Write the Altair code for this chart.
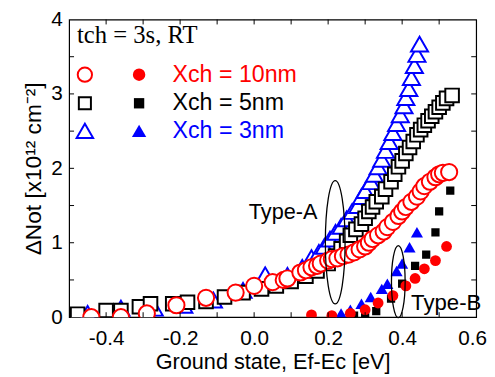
import altair as alt
import pandas as pd

# ---------------- data ----------------
# Xch = 10nm, open circles (Type-A)
x10_open = [-0.44, -0.36, -0.29, -0.21, -0.13, -0.05, 0.00, 0.05, 0.08, 0.09, 0.125, 0.14,
            0.155, 0.17, 0.18, 0.20, 0.21, 0.225, 0.24, 0.255, 0.27, 0.285, 0.30, 0.31,
            0.32, 0.335, 0.35, 0.36, 0.375, 0.39, 0.40, 0.41, 0.425, 0.44, 0.45, 0.46,
            0.475, 0.49, 0.50, 0.51, 0.527]
y10_open = [0.00, 0.00, 0.05, 0.16, 0.26, 0.33, 0.42, 0.47, 0.50, 0.52, 0.60, 0.63,
            0.67, 0.69, 0.72, 0.76, 0.78, 0.79, 0.82, 0.84, 0.87, 0.91, 0.95, 1.00,
            1.05, 1.10, 1.15, 1.21, 1.28, 1.36, 1.42, 1.48, 1.55, 1.62, 1.69, 1.76,
            1.82, 1.88, 1.92, 1.94, 1.95]
# Xch = 5nm, open squares (Type-A)
x5_open = [-0.477, -0.40, -0.36, -0.31, -0.28, -0.22, -0.18, -0.13, -0.08, -0.03, 0.02,
           0.06, 0.10, 0.14, 0.17, 0.20, 0.22, 0.235, 0.25, 0.26, 0.275, 0.29, 0.30, 0.31,
           0.32, 0.33, 0.345, 0.355, 0.37, 0.38, 0.39, 0.40, 0.41, 0.42, 0.43, 0.44, 0.45,
           0.46, 0.47, 0.48, 0.49, 0.50, 0.51, 0.52, 0.535]
y5_open = [0.04, 0.09, 0.09, 0.14, 0.18, 0.18, 0.20, 0.21, 0.27, 0.33, 0.38,
           0.42, 0.48, 0.55, 0.62, 0.72, 0.82, 0.92, 1.02, 1.10, 1.18, 1.25, 1.33, 1.42,
           1.48, 1.55, 1.62, 1.72, 1.82, 1.92, 2.02, 2.10, 2.20, 2.28, 2.36, 2.45, 2.52,
           2.58, 2.64, 2.70, 2.76, 2.82, 2.88, 2.94, 2.98]
# Xch = 3nm, open triangles (Type-A)
x3_open = [-0.45, -0.36, -0.27, -0.19, -0.11, -0.03, 0.03, 0.09, 0.13, 0.155, 0.175, 0.19,
           0.205, 0.22, 0.235, 0.25, 0.265, 0.28, 0.29, 0.30, 0.315, 0.325, 0.335, 0.345,
           0.355, 0.365, 0.375, 0.385, 0.395, 0.405, 0.41, 0.418, 0.425, 0.433, 0.44, 0.447]
y3_open = [0.05, 0.12, 0.12, 0.16, 0.23, 0.36, 0.57, 0.56, 0.67, 0.80, 0.87, 0.95,
           1.05, 1.14, 1.22, 1.32, 1.42, 1.50, 1.62, 1.70, 1.82, 1.92, 2.02, 2.12,
           2.24, 2.36, 2.48, 2.60, 2.72, 2.84, 2.95, 3.07, 3.22, 3.38, 3.53, 3.67]
# filled symbols (Type-B)
x10_fill = [0.155, 0.21, 0.26, 0.30, 0.335, 0.375, 0.41, 0.435, 0.46, 0.49, 0.52]
y10_fill = [0.03, 0.02, 0.05, 0.10, 0.19, 0.29, 0.42, 0.52, 0.65, 0.76, 0.95]
x5_fill = [0.27, 0.30, 0.33, 0.37, 0.40, 0.435, 0.465, 0.49, 0.50, 0.53]
y5_fill = [0.02, 0.03, 0.08, 0.25, 0.45, 0.69, 0.84, 1.14, 1.42, 1.70]
x3_fill = [0.235, 0.26, 0.29, 0.315, 0.345, 0.36, 0.385, 0.40, 0.42, 0.44]
y3_fill = [0.05, 0.10, 0.18, 0.27, 0.38, 0.45, 0.62, 0.72, 0.94, 1.14]

x_labels = [-0.4, -0.2, 0.0, 0.2, 0.4, 0.6]
y_labels = [0, 1, 2, 3, 4]
x_ticks = [-0.4, -0.3, -0.2, -0.1, 0.0, 0.1, 0.2, 0.3, 0.4, 0.5]
y_ticks = [0.5, 1.0, 1.5, 2.0, 2.5, 3.0, 3.5]

legend_labels = ["Xch = 10nm", "Xch = 5nm", "Xch = 3nm"]
legend_colors = ["#ff0000", "#000000", "#0000ff"]
legend_shapes = ["circle", "square", "triangle-up"]

# ---------------- layout ----------------
W, H = 413, 302
SANS = "Liberation Sans"

xscale = alt.Scale(domain=[-0.5, 0.6], nice=False, zero=False)
yscale = alt.Scale(domain=[0, 4], nice=False, zero=False)
xaxis = alt.Axis(values=x_labels, ticks=False, tickSize=0, domain=False, grid=False,
                 labelExpr="replace(format(datum.value, '.1f'), '\u2212', '-')",
                 labelFont=SANS, labelFontSize=21, labelColor="black", labelPadding=11,
                 labelOffset={"condition": {"test": "datum.value > 0.55", "value": -4}, "value": 0},
                 labelFlush=False, labelOverlap=False,
                 title="Ground state, Ef-Ec [eV]", titleFont=SANS, titleFontSize=22,
                 titleFontWeight="normal", titleColor="black", titlePadding=3)
yaxis = alt.Axis(values=y_labels, ticks=False, tickSize=0, domain=False, grid=False,
                 format="d", labelFont=SANS, labelFontSize=21, labelColor="black",
                 labelPadding=7, labelFlush=False, labelOverlap=False,
                 title="\u0394Not [x10\u00b9\u00b2 cm\u207b\u00b2]", titleFont=SANS,
                 titleFontSize=23, titleFontWeight="normal", titleColor="black",
                 titlePadding=5)

X = alt.X("x:Q", scale=xscale, axis=xaxis)
Y = alt.Y("y:Q", scale=yscale, axis=yaxis)


def series(xs, ys, shape, color, size, filled):
    df = pd.DataFrame({"x": xs, "y": ys})
    if filled:
        m = alt.Chart(df).mark_point(shape=shape, size=size, filled=True, fill=color,
                                     strokeWidth=0, opacity=1, clip=True)
    else:
        m = alt.Chart(df).mark_point(shape=shape, size=size, filled=True, fill="white",
                                     fillOpacity=1, stroke=color, strokeWidth=2,
                                     opacity=1, clip=True)
    return m.encode(x=X, y=Y)


layers = [
    series(x3_open, y3_open, "triangle-up", "#0000ff", 300, False),
    series(x5_open, y5_open, "square", "#000000", 190, False),
    series(x10_open, y10_open, "circle", "#ff0000", 270, False),
    series(x3_fill, y3_fill, "triangle-up", "#0000ff", 150, True),
    series(x5_fill, y5_fill, "square", "#000000", 70, True),
    series(x10_fill, y10_fill, "circle", "#ff0000", 120, True),
]

# inward ticks on all four sides
xt = pd.DataFrame({"x": x_ticks})
yt = pd.DataFrame({"y": y_ticks})
tick_style = dict(color="black", strokeWidth=1)
layers += [
    alt.Chart(xt).mark_rule(**tick_style).encode(x=X, y=alt.value(H), y2=alt.value(H - 5)),
    alt.Chart(xt).mark_rule(**tick_style).encode(x=X, y=alt.value(0), y2=alt.value(5)),
    alt.Chart(yt).mark_rule(**tick_style).encode(y=Y, x=alt.value(0), x2=alt.value(5)),
    alt.Chart(yt).mark_rule(**tick_style).encode(y=Y, x=alt.value(W), x2=alt.value(W - 5)),
]

one = pd.DataFrame({"t": [""]})

# in-plot legend
layers.append(
    alt.Chart(pd.DataFrame({"t": ["tch = 3s, RT"]})).mark_text(
        font="Liberation Serif", fontSize=25, color="black", align="left", baseline="middle"
    ).encode(x=alt.value(8), y=alt.value(16), text="t:N")
)
row_y = [56, 85, 113]
open_sizes = {"circle": 210, "square": 150, "triangle-up": 280}
fill_sizes = {"circle": 160, "square": 110, "triangle-up": 210}
for lab, col, shp, ry in zip(legend_labels, legend_colors, legend_shapes, row_y):
    layers.append(alt.Chart(one).mark_point(shape=shp, size=open_sizes[shp], filled=True,
                                            fill="white", stroke=col, strokeWidth=2, opacity=1)
                  .encode(x=alt.value(16), y=alt.value(ry)))
    layers.append(alt.Chart(one).mark_point(shape=shp, size=fill_sizes[shp], filled=True,
                                            fill=col, strokeWidth=0, opacity=1)
                  .encode(x=alt.value(71), y=alt.value(ry)))
    layers.append(alt.Chart(pd.DataFrame({"t": [lab]})).mark_text(
        font=SANS, fontSize=23.5, color=col, align="left", baseline="middle"
    ).encode(x=alt.value(105), y=alt.value(ry), text="t:N"))

# annotations: ellipses and labels
ellA = "M0,-1A0.16,1 0 1,1 0,1A0.16,1 0 1,1 0,-1Z"
ellB = "M0,-1A0.19,1 0 1,1 0,1A0.19,1 0 1,1 0,-1Z"
layers += [
    alt.Chart(one).mark_point(shape=ellA, size=125 * 125, filled=False, stroke="black",
                              strokeWidth=1.3, opacity=1)
    .encode(x=alt.value(270), y=alt.value(226)),
    alt.Chart(one).mark_point(shape=ellB, size=73 * 73, filled=False, stroke="black",
                              strokeWidth=1.3, opacity=1)
    .encode(x=alt.value(334), y=alt.value(266)),
    alt.Chart(pd.DataFrame({"t": ["Type-A"]})).mark_text(
        font=SANS, fontSize=22, color="black", align="right", baseline="middle"
    ).encode(x=alt.value(252), y=alt.value(195), text="t:N"),
    alt.Chart(pd.DataFrame({"t": ["Type-B"]})).mark_text(
        font=SANS, fontSize=22.5, color="black", align="left", baseline="middle"
    ).encode(x=alt.value(347), y=alt.value(288), text="t:N"),
]

chart = alt.layer(*layers).properties(
    width=W, height=H,
    autosize=alt.AutoSizeParams(type="none"),
    padding={"left": 62, "top": 9, "right": 11, "bottom": 55},
    background="white",
).configure_view(stroke="black", strokeWidth=1.2)

chart.save("out.html", embed_options={"renderer": "svg", "actions": False})
